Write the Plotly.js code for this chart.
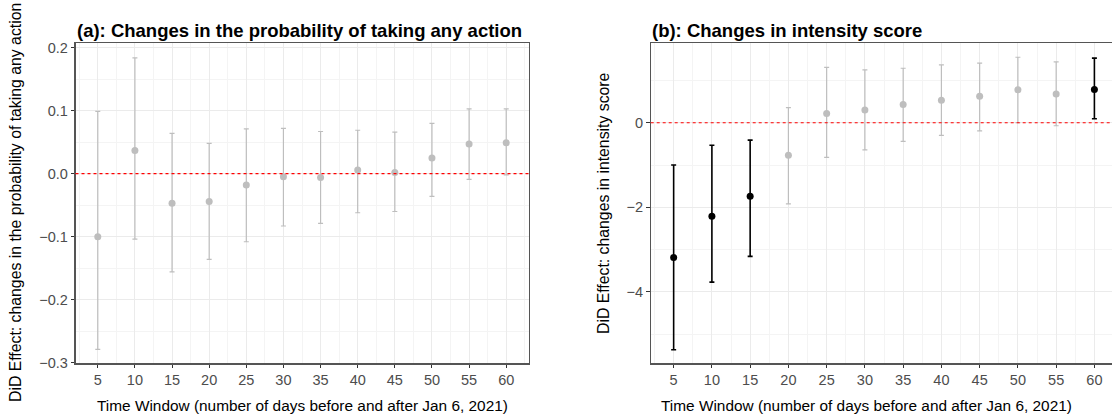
<!DOCTYPE html>
<html>
<head>
<meta charset="utf-8">
<script src="https://cdn.plot.ly/plotly-3.0.1.min.js"></script>
<style>html,body{margin:0;padding:0;background:#fff;}#chart{width:1112px;height:419px;}</style>
</head>
<body>
<div id="chart"></div>
<script>
// ---- data ----
var windows = [5, 10, 15, 20, 25, 30, 35, 40, 45, 50, 55, 60];
var tickLabels = ["5","10","15","20","25","30","35","40","45","50","55","60"];

// Panel (a): probability of taking any action
var estA   = [-0.100, 0.037, -0.047, -0.044, -0.018, -0.005, -0.006, 0.006, 0.002, 0.025, 0.047, 0.049];
var upperA = [ 0.099, 0.184,  0.064,  0.048,  0.071,  0.072,  0.067, 0.069, 0.066, 0.080, 0.103, 0.103];
var lowerA = [-0.279,-0.104, -0.156, -0.136, -0.108, -0.083, -0.079,-0.062,-0.060,-0.036,-0.009,-0.002];
var sigA   = [0,0,0,0,0,0,0,0,0,0,0,0];

// Panel (b): intensity score
var estB   = [-3.19, -2.21, -1.74, -0.77, 0.22, 0.30, 0.43, 0.53, 0.63, 0.78, 0.68, 0.79];
var upperB = [-1.00, -0.53, -0.41,  0.36, 1.31, 1.25, 1.29, 1.37, 1.41, 1.55, 1.44, 1.53];
var lowerB = [-5.37, -3.77, -3.16, -1.92,-0.82,-0.64,-0.44,-0.30,-0.19, 0.00,-0.07, 0.095];
var sigB   = [1,1,1,0,0,0,0,0,0,0,0,1];

var yTicksA = [-0.3, -0.2, -0.1, 0, 0.1, 0.2];
var yTickTextA = ["\u22120.3", "\u22120.2", "\u22120.1", "0.0", "0.1", "0.2"];
var yTicksB = [-4, -2, 0];
var yTickTextB = ["\u22124", "\u22122", "0"];

var titleA = "(a): Changes in the probability of taking any action";
var titleB = "(b): Changes in intensity score";
var xTitle = "Time Window (number of days before and after Jan 6, 2021)";
var yTitleA = "DiD Effect: changes in the probability of taking any action";
var yTitleB = "DiD Effect: changes in intensity score";

// ---- build traces ----
var W = 1112, H = 419;
function makeTraces(est, lo, hi, sig, xa, ya) {
  var out = [];
  [0, 1].forEach(function (s) {
    var xs = [], ys = [], ep = [], em = [];
    for (var i = 0; i < est.length; i++) {
      if (sig[i] === s) {
        xs.push(windows[i]); ys.push(est[i]);
        ep.push(hi[i] - est[i]); em.push(est[i] - lo[i]);
      }
    }
    if (!xs.length) return;
    var col = s ? "#000000" : "#BEBEBE";
    out.push({
      type: "scatter", mode: "markers", x: xs, y: ys, xaxis: xa, yaxis: ya,
      marker: {color: col, size: 7},
      error_y: {type: "data", symmetric: false, array: ep, arrayminus: em,
                color: col, thickness: s ? 1.6 : 1.2, width: 2.5},
      showlegend: false, hoverinfo: "skip"
    });
  });
  return out;
}
var data = makeTraces(estA, lowerA, upperA, sigA, "x", "y")
  .concat(makeTraces(estB, lowerB, upperB, sigB, "x2", "y2"));

var fontFam = "Liberation Sans, Arial, Helvetica, sans-serif";
var yTop = 43.3, yBot = 363.3;
var ydom = [(H - yBot) / H, (H - yTop) / H];
var axA = [75.5, 528.5], axB = [650.7, 1112];
var pxPerUnitB = 7.65;
var tickFont = {family: fontFam, size: 14.5, color: "#4D4D4D"};

function xaxisCfg(dom, range, anchor) {
  return {
    anchor: anchor,
    domain: [dom[0] / W, dom[1] / W], range: range,
    tickvals: windows, ticktext: tickLabels,
    ticks: "outside", ticklen: 3.5, tickcolor: "#333333", tickwidth: 1,
    tickfont: tickFont,
    showgrid: true, gridcolor: "#EBEBEB", gridwidth: 1,
    minor: {tick0: 2.5, dtick: 5, showgrid: true, gridcolor: "#F4F4F4", gridwidth: 1, ticks: ""},
    showline: true, linecolor: "#555555", linewidth: 1.2, mirror: true,
    zeroline: false, fixedrange: true
  };
}
function yaxisCfg(anchor, range, tv, tt, minorTv, mirror) {
  return {
    anchor: anchor,
    domain: ydom, range: range,
    tickvals: tv, ticktext: tt,
    ticks: "outside", ticklen: 3.5, tickcolor: "#333333", tickwidth: 1,
    tickfont: tickFont,
    showgrid: true, gridcolor: "#EBEBEB", gridwidth: 1,
    minor: {tickvals: minorTv, showgrid: true, gridcolor: "#F4F4F4", gridwidth: 1, ticks: ""},
    showline: true, linecolor: "#555555", linewidth: 1.2, mirror: mirror,
    zeroline: false, fixedrange: true
  };
}

var layout = {
  width: W, height: H,
  margin: {l: 0, r: 0, t: 0, b: 0},
  paper_bgcolor: "#ffffff", plot_bgcolor: "#ffffff",
  font: {family: fontFam, color: "#000"},
  xaxis: xaxisCfg(axA, [2, 63], "y"),
  yaxis: yaxisCfg("x", [-0.301, 0.207], yTicksA, yTickTextA, [-0.25, -0.15, -0.05, 0.05, 0.15], true),
  xaxis2: xaxisCfg(axB, [2, 2 + (axB[1] - axB[0]) / pxPerUnitB], "y2"),
  yaxis2: yaxisCfg("x2", [-5.69, 1.88], yTicksB, yTickTextB, [-5, -3, -1, 1], false),
  shapes: [
    {type: "line", xref: "x domain", yref: "y", x0: 0, x1: 1, y0: 0, y1: 0,
     line: {color: "#FF0000", width: 1.2, dash: "dot"}, layer: "above"},
    {type: "line", xref: "x2 domain", yref: "y2", x0: 0, x1: 1, y0: 0, y1: 0,
     line: {color: "#FF0000", width: 1.2, dash: "dot"}, layer: "above"}
  ],
  annotations: [
    {text: "<b>" + titleA + "</b>", xref: "paper", yref: "paper", x: (axA[0] - 1) / W, y: (H - 30) / H,
     xanchor: "left", yanchor: "middle", showarrow: false, font: {family: fontFam, size: 18.5, color: "#000"}},
    {text: "<b>" + titleB + "</b>", xref: "paper", yref: "paper", x: (axB[0] - 1) / W, y: (H - 30) / H,
     xanchor: "left", yanchor: "middle", showarrow: false, font: {family: fontFam, size: 18.5, color: "#000"}},
    {text: xTitle, xref: "paper", yref: "paper", x: (axA[0] + axA[1]) / 2 / W, y: (H - 405) / H,
     xanchor: "center", yanchor: "middle", showarrow: false, font: {family: fontFam, size: 15.4, color: "#000"}},
    {text: xTitle, xref: "paper", yref: "paper", x: (axB[0] + 1083) / 2 / W, y: (H - 405) / H,
     xanchor: "center", yanchor: "middle", showarrow: false, font: {family: fontFam, size: 15.4, color: "#000"}},
    {text: yTitleA, xref: "paper", yref: "paper", x: 16 / W, y: (H - 203) / H, textangle: -90,
     xanchor: "center", yanchor: "middle", showarrow: false, font: {family: fontFam, size: 15.8, color: "#000"}},
    {text: yTitleB, xref: "paper", yref: "paper", x: 604 / W, y: (H - 203) / H, textangle: -90,
     xanchor: "center", yanchor: "middle", showarrow: false, font: {family: fontFam, size: 15.8, color: "#000"}}
  ]
};

Plotly.newPlot("chart", data, layout, {staticPlot: true, displayModeBar: false});
</script>
</body>
</html>
